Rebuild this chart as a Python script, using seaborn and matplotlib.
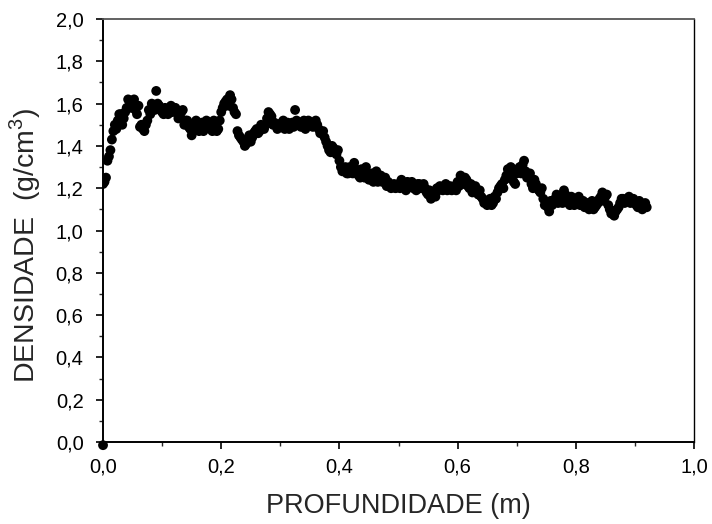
import matplotlib
matplotlib.use("Agg")
import matplotlib.pyplot as plt
import seaborn as sns
import pandas as pd
from matplotlib.ticker import MultipleLocator, FixedLocator

sns.set_style("ticks")
plt.rcParams['font.family'] = ['Liberation Sans', 'DejaVu Sans']
plt.rcParams['mathtext.fontset'] = 'custom'
plt.rcParams['mathtext.rm'] = 'Liberation Sans'

# readings, first pass
depth_a = [
    0.000, 0.005, 0.010, 0.015, 0.020, 0.025, 0.030, 0.035, 0.040, 0.045,
    0.050, 0.055, 0.060, 0.065, 0.070, 0.075, 0.080, 0.085, 0.090, 0.095,
    0.100, 0.105, 0.110, 0.115, 0.120, 0.125, 0.130, 0.135, 0.140, 0.145,
    0.150, 0.155, 0.160, 0.165, 0.170, 0.175, 0.180, 0.185, 0.190, 0.195,
    0.200, 0.205, 0.210, 0.215, 0.220, 0.225, 0.230, 0.235, 0.240, 0.245,
    0.250, 0.255, 0.260, 0.265, 0.270, 0.275, 0.280, 0.285, 0.290, 0.295,
    0.300, 0.305, 0.310, 0.315, 0.320, 0.325, 0.330, 0.335, 0.340, 0.345,
    0.350, 0.355, 0.360, 0.365, 0.370, 0.375, 0.380, 0.385, 0.390, 0.395,
    0.400, 0.405, 0.410, 0.415, 0.420, 0.425, 0.430, 0.435, 0.440, 0.445,
    0.450, 0.455, 0.460, 0.465, 0.470, 0.475, 0.480, 0.485, 0.490, 0.495,
    0.500, 0.505, 0.510, 0.515, 0.520, 0.525, 0.530, 0.535, 0.540, 0.545,
    0.550, 0.555, 0.560, 0.565, 0.570, 0.575, 0.580, 0.585, 0.590, 0.595,
    0.600, 0.605, 0.610, 0.615, 0.620, 0.625, 0.630, 0.635, 0.640, 0.645,
    0.650, 0.655, 0.660, 0.665, 0.670, 0.675, 0.680, 0.685, 0.690, 0.695,
    0.700, 0.705, 0.710, 0.715, 0.720, 0.725, 0.730, 0.735, 0.740, 0.745,
    0.750, 0.755, 0.760, 0.765, 0.770, 0.775, 0.780, 0.785, 0.790, 0.795,
    0.800, 0.805, 0.810, 0.815, 0.820, 0.825, 0.830, 0.835, 0.840, 0.845,
    0.850, 0.855, 0.860, 0.865, 0.870, 0.875, 0.880, 0.885, 0.890, 0.895,
    0.900, 0.905, 0.910, 0.915, 0.920,
]
density_a = [
    1.22, 1.25, 1.35, 1.43, 1.50, 1.52, 1.55, 1.53, 1.58, 1.61,
    1.60, 1.57, 1.59, 1.50, 1.47, 1.52, 1.55, 1.58, 1.66, 1.59,
    1.56, 1.58, 1.55, 1.59, 1.57, 1.56, 1.54, 1.57, 1.52, 1.49,
    1.45, 1.51, 1.48, 1.50, 1.47, 1.52, 1.49, 1.47, 1.50, 1.48,
    1.56, 1.60, 1.62, 1.64, 1.58, 1.55, 1.45, 1.43, 1.40, 1.43,
    1.42, 1.46, 1.48, 1.47, 1.49, 1.50, 1.56, 1.54, 1.51, 1.48,
    1.50, 1.52, 1.49, 1.48, 1.51, 1.57, 1.50, 1.49, 1.52, 1.50,
    1.51, 1.49, 1.52, 1.48, 1.46, 1.44, 1.40, 1.37, 1.39, 1.36,
    1.33, 1.28, 1.30, 1.27, 1.29, 1.32, 1.27, 1.25, 1.28, 1.30,
    1.24, 1.27, 1.25, 1.23, 1.26, 1.24, 1.21, 1.22, 1.21, 1.20,
    1.22, 1.24, 1.21, 1.23, 1.22, 1.20, 1.19, 1.22, 1.21, 1.20,
    1.17, 1.15, 1.18, 1.20, 1.21, 1.19, 1.22, 1.20, 1.19, 1.21,
    1.23, 1.26, 1.22, 1.24, 1.20, 1.18, 1.21, 1.17, 1.16, 1.13,
    1.12, 1.15, 1.13, 1.15, 1.20, 1.22, 1.24, 1.29, 1.30, 1.23,
    1.27, 1.30, 1.31, 1.28, 1.25, 1.22, 1.24, 1.20, 1.18, 1.15,
    1.13, 1.09, 1.12, 1.15, 1.13, 1.16, 1.19, 1.14, 1.12, 1.15,
    1.13, 1.16, 1.14, 1.11, 1.13, 1.12, 1.10, 1.12, 1.15, 1.18,
    1.16, 1.12, 1.08, 1.07, 1.10, 1.13, 1.15, 1.14, 1.16, 1.14,
    1.13, 1.11, 1.13, 1.12, 1.11,
]
# readings, second pass (interleaved depths)
depth_b = [
    0.0025, 0.0075, 0.0125, 0.0175, 0.0225, 0.0275, 0.0325, 0.0375, 0.0425, 0.0475,
    0.0525, 0.0575, 0.0625, 0.0675, 0.0725, 0.0775, 0.0825, 0.0875, 0.0925, 0.0975,
    0.1025, 0.1075, 0.1125, 0.1175, 0.1225, 0.1275, 0.1325, 0.1375, 0.1425, 0.1475,
    0.1525, 0.1575, 0.1625, 0.1675, 0.1725, 0.1775, 0.1825, 0.1875, 0.1925, 0.1975,
    0.2025, 0.2075, 0.2125, 0.2175, 0.2225, 0.2275, 0.2325, 0.2375, 0.2425, 0.2475,
    0.2525, 0.2575, 0.2625, 0.2675, 0.2725, 0.2775, 0.2825, 0.2875, 0.2925, 0.2975,
    0.3025, 0.3075, 0.3125, 0.3175, 0.3225, 0.3275, 0.3325, 0.3375, 0.3425, 0.3475,
    0.3525, 0.3575, 0.3625, 0.3675, 0.3725, 0.3775, 0.3825, 0.3875, 0.3925, 0.3975,
    0.4025, 0.4075, 0.4125, 0.4175, 0.4225, 0.4275, 0.4325, 0.4375, 0.4425, 0.4475,
    0.4525, 0.4575, 0.4625, 0.4675, 0.4725, 0.4775, 0.4825, 0.4875, 0.4925, 0.4975,
    0.5025, 0.5075, 0.5125, 0.5175, 0.5225, 0.5275, 0.5325, 0.5375, 0.5425, 0.5475,
    0.5525, 0.5575, 0.5625, 0.5675, 0.5725, 0.5775, 0.5825, 0.5875, 0.5925, 0.5975,
    0.6025, 0.6075, 0.6125, 0.6175, 0.6225, 0.6275, 0.6325, 0.6375, 0.6425, 0.6475,
    0.6525, 0.6575, 0.6625, 0.6675, 0.6725, 0.6775, 0.6825, 0.6875, 0.6925, 0.6975,
    0.7025, 0.7075, 0.7125, 0.7175, 0.7225, 0.7275, 0.7325, 0.7375, 0.7425, 0.7475,
    0.7525, 0.7575, 0.7625, 0.7675, 0.7725, 0.7775, 0.7825, 0.7875, 0.7925, 0.7975,
    0.8025, 0.8075, 0.8125, 0.8175, 0.8225, 0.8275, 0.8325, 0.8375, 0.8425, 0.8475,
    0.8525, 0.8575, 0.8625, 0.8675, 0.8725, 0.8775, 0.8825, 0.8875, 0.8925, 0.8975,
    0.9025, 0.9075, 0.9125, 0.9175,
]
density_b = [
    1.23, 1.33, 1.38, 1.47, 1.48, 1.55, 1.50, 1.56, 1.62, 1.58,
    1.62, 1.55, 1.49, 1.48, 1.50, 1.57, 1.60, 1.57, 1.60, 1.57,
    1.55, 1.57, 1.58, 1.56, 1.58, 1.53, 1.56, 1.50, 1.52, 1.48,
    1.49, 1.52, 1.47, 1.51, 1.49, 1.51, 1.48, 1.52, 1.47, 1.52,
    1.58, 1.61, 1.59, 1.62, 1.56, 1.47, 1.44, 1.42, 1.41, 1.45,
    1.44, 1.47, 1.46, 1.50, 1.48, 1.53, 1.55, 1.50, 1.50, 1.49,
    1.51, 1.48, 1.51, 1.50, 1.49, 1.52, 1.51, 1.50, 1.48, 1.52,
    1.50, 1.51, 1.50, 1.46, 1.47, 1.42, 1.38, 1.40, 1.37, 1.38,
    1.30, 1.29, 1.27, 1.30, 1.27, 1.29, 1.26, 1.29, 1.25, 1.27,
    1.26, 1.23, 1.28, 1.25, 1.23, 1.25, 1.23, 1.20, 1.22, 1.21,
    1.20, 1.22, 1.19, 1.21, 1.23, 1.21, 1.22, 1.20, 1.22, 1.18,
    1.19, 1.17, 1.16, 1.19, 1.20, 1.21, 1.19, 1.21, 1.20, 1.19,
    1.21, 1.23, 1.25, 1.21, 1.22, 1.19, 1.18, 1.19, 1.15, 1.14,
    1.14, 1.12, 1.16, 1.18, 1.21, 1.20, 1.26, 1.25, 1.28, 1.22,
    1.29, 1.27, 1.33, 1.25, 1.27, 1.20, 1.22, 1.19, 1.20, 1.12,
    1.11, 1.14, 1.13, 1.17, 1.15, 1.13, 1.17, 1.13, 1.16, 1.12,
    1.15, 1.12, 1.14, 1.12, 1.10, 1.14, 1.11, 1.13, 1.16, 1.14,
    1.17, 1.10, 1.09, 1.09, 1.11, 1.15, 1.13, 1.15, 1.13, 1.15,
    1.12, 1.14, 1.10, 1.13,
]
# isolated surface reading at zero depth
zero_depth = [0.0]
zero_density = [-0.015]

x_ticks = [0.0, 0.2, 0.4, 0.6, 0.8, 1.0]
x_tick_labels = ["0,0", "0,2", "0,4", "0,6", "0,8", "1,0"]
y_ticks = [0.0, 0.2, 0.4, 0.6, 0.8, 1.0, 1.2, 1.4, 1.6, 1.8, 2.0]
y_tick_labels = ["0,0", "0,2", "0,4", "0,6", "0,8", "1,0", "1,2", "1,4", "1,6", "1,8", "2,0"]

df = pd.DataFrame({"depth": depth_a + depth_b, "density": density_a + density_b})

fig = plt.figure(figsize=(7.12, 5.24), dpi=100)
ax = fig.add_axes([0.1447, 0.1565, 0.83, 0.8072])

sns.scatterplot(data=df, x="depth", y="density", ax=ax, color="black",
                s=50, edgecolor="none", linewidth=0, legend=False)
ax.scatter(zero_depth, zero_density, color="black", s=50, edgecolors="none",
           clip_on=False, zorder=5)

ax.set_xlim(0, 1.0)
ax.set_ylim(0, 2.0)
ax.xaxis.set_major_locator(FixedLocator(x_ticks))
ax.set_xticklabels(x_tick_labels)
ax.yaxis.set_major_locator(FixedLocator(y_ticks))
ax.set_yticklabels(y_tick_labels)
ax.xaxis.set_minor_locator(MultipleLocator(0.1))
ax.yaxis.set_minor_locator(MultipleLocator(0.1))

ax.tick_params(axis="both", which="major", direction="out", length=5, width=1.2,
               labelsize=14.5, colors="black")
ax.tick_params(axis="x", which="major", pad=6)
ax.tick_params(axis="y", which="major", pad=9)
ax.tick_params(axis="both", which="minor", direction="out", length=3, width=1.0)
ax.tick_params(top=False, right=False, which="both")

for side in ["left", "bottom"]:
    ax.spines[side].set_color("black")
    ax.spines[side].set_linewidth(1.4)
ax.spines["top"].set_color("#555555")
ax.spines["top"].set_linewidth(1.3)
ax.spines["right"].set_color("black")
ax.spines["right"].set_linewidth(1.0)

ax.set_xlabel("PROFUNDIDADE (m)", fontsize=19.5, labelpad=12)
ax.set_ylabel("DENSIDADE  (g/cm$^3$)", fontsize=20.5)
ax.yaxis.set_label_coords(-0.102, 0.466)

fig.savefig("out.png", dpi=100)
